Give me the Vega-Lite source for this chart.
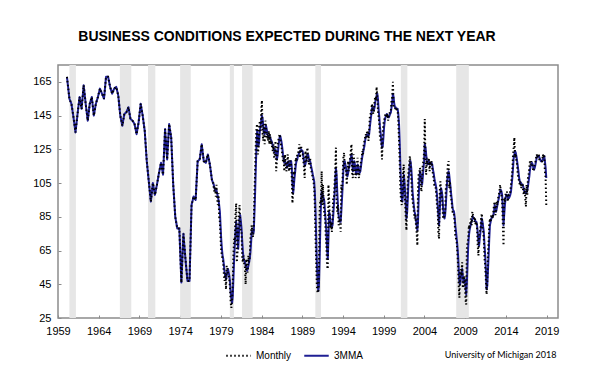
{
"$schema":"https://vega.github.io/schema/vega-lite/v6.json",
"width":500,"height":253,
"autosize":{"type":"none"},
"padding":{"left":58,"top":65,"right":58,"bottom":68},
"background":"white",
"config":{"view":{"stroke":"#8c8c8c","strokeWidth":1.5},"font":"Liberation Sans"},
"title":{"text":"BUSINESS CONDITIONS EXPECTED DURING THE NEXT YEAR","fontSize":14,"fontWeight":"bold","font":"Liberation Sans","color":"#000","anchor":"middle","dx":-21,"baseline":"alphabetic","offset":10},
"datasets":{
"r":[{"s":1960.4,"e":1961.2},{"s":1966.6,"e":1968.0},{"s":1970.05,"e":1970.95},{"s":1974.0,"e":1975.3},{"s":1980.1,"e":1980.6},{"s":1981.6,"e":1982.9},{"s":1990.6,"e":1991.3},{"s":2001.1,"e":2001.9},{"s":2007.9,"e":2009.45}],
"d":[
{"t":1960.1,"m":168,"a":168},{"t":1960.4,"m":155,"a":155},{"t":1960.65,"m":152,"a":152},{"t":1960.9,"m":144,"a":144},
{"t":1961.15,"m":135,"a":135},{"t":1961.4,"m":146,"a":146},{"t":1961.65,"m":156,"a":156},{"t":1961.9,"m":149,"a":149},
{"t":1962.15,"m":163,"a":163},{"t":1962.4,"m":152,"a":152},{"t":1962.65,"m":142,"a":142},{"t":1962.9,"m":152,"a":152},
{"t":1963.15,"m":156,"a":156},{"t":1963.4,"m":145,"a":145},{"t":1963.65,"m":152,"a":152},{"t":1963.9,"m":156,"a":156},
{"t":1964.15,"m":161,"a":161},{"t":1964.4,"m":158,"a":158},{"t":1964.65,"m":155,"a":155},{"t":1964.9,"m":168,"a":168},
{"t":1965.15,"m":168,"a":168},{"t":1965.4,"m":162,"a":162},{"t":1965.65,"m":158,"a":158},{"t":1965.9,"m":161,"a":161},
{"t":1966.15,"m":162,"a":162},{"t":1966.4,"m":157,"a":157},{"t":1966.65,"m":145,"a":145},{"t":1966.9,"m":139,"a":139},
{"t":1967.15,"m":146,"a":146},{"t":1967.4,"m":147,"a":147},{"t":1967.65,"m":150,"a":150},{"t":1967.9,"m":143,"a":143},
{"t":1968.15,"m":142,"a":142},{"t":1968.4,"m":140,"a":140},{"t":1968.65,"m":134,"a":134},{"t":1968.9,"m":141,"a":141},
{"t":1969.15,"m":152,"a":152},{"t":1969.4,"m":145,"a":145},{"t":1969.65,"m":136,"a":136},{"t":1969.9,"m":118,"a":118},
{"t":1970.15,"m":106,"a":106},{"t":1970.4,"m":94,"a":94},{"t":1970.65,"m":105,"a":105},{"t":1970.9,"m":98,"a":98},
{"t":1971.15,"m":104,"a":104},{"t":1971.4,"m":111,"a":111},{"t":1971.65,"m":117,"a":117},{"t":1971.9,"m":110,"a":110},
{"t":1972.15,"m":137,"a":137},{"t":1972.4,"m":119,"a":119},{"t":1972.65,"m":140,"a":140},{"t":1972.9,"m":132,"a":132},
{"t":1973.15,"m":104,"a":104},{"t":1973.4,"m":85,"a":85},{"t":1973.65,"m":78,"a":78},{"t":1973.9,"m":78,"a":78},
{"t":1974.15,"m":46,"a":46},{"t":1974.4,"m":75,"a":75},{"t":1974.65,"m":60,"a":60},{"t":1974.9,"m":47,"a":47},
{"t":1975.15,"m":47,"a":47},{"t":1975.4,"m":92,"a":92},{"t":1975.65,"m":97,"a":97},{"t":1975.9,"m":95,"a":95},
{"t":1976.15,"m":118,"a":118},{"t":1976.4,"m":119,"a":119},{"t":1976.65,"m":128,"a":128},{"t":1976.9,"m":118,"a":118},
{"t":1977.15,"m":117,"a":117},{"t":1977.4,"m":122,"a":122},{"t":1977.65,"m":116,"a":116},{"t":1977.9,"m":107,"a":107},
{"t":1978.04,"m":106,"a":105},{"t":1978.13,"m":102,"a":104},{"t":1978.21,"m":100,"a":102},{"t":1978.29,"m":103,"a":101},{"t":1978.38,"m":97,"a":100},{"t":1978.46,"m":104,"a":101},{"t":1978.54,"m":96,"a":99},{"t":1978.63,"m":92,"a":97},{"t":1978.71,"m":99,"a":95},{"t":1978.79,"m":85,"a":92},{"t":1978.88,"m":82,"a":88},{"t":1978.96,"m":73,"a":80},
{"t":1979.04,"m":65,"a":72},{"t":1979.13,"m":62,"a":66},{"t":1979.21,"m":60,"a":62},{"t":1979.29,"m":58,"a":60},{"t":1979.38,"m":50,"a":56},{"t":1979.46,"m":47,"a":52},{"t":1979.54,"m":52,"a":50},{"t":1979.63,"m":42,"a":48},{"t":1979.71,"m":56,"a":50},{"t":1979.79,"m":55,"a":53},{"t":1979.88,"m":51,"a":54},{"t":1979.96,"m":50,"a":52},
{"t":1980.04,"m":48,"a":50},{"t":1980.13,"m":42,"a":46},{"t":1980.21,"m":34,"a":40},{"t":1980.29,"m":31,"a":36},{"t":1980.38,"m":36,"a":34},{"t":1980.46,"m":45,"a":38},{"t":1980.54,"m":62,"a":48},{"t":1980.63,"m":72,"a":60},{"t":1980.71,"m":70,"a":68},{"t":1980.79,"m":86,"a":76},{"t":1980.88,"m":93,"a":82},{"t":1980.96,"m":58,"a":78},
{"t":1981.04,"m":64,"a":72},{"t":1981.13,"m":74,"a":66},{"t":1981.21,"m":85,"a":74},{"t":1981.29,"m":92,"a":84},{"t":1981.38,"m":82,"a":86},{"t":1981.46,"m":76,"a":82},{"t":1981.54,"m":76,"a":78},{"t":1981.63,"m":60,"a":70},{"t":1981.71,"m":58,"a":64},{"t":1981.79,"m":62,"a":60},{"t":1981.88,"m":56,"a":59},{"t":1981.96,"m":55,"a":58},
{"t":1982.04,"m":45,"a":56},{"t":1982.13,"m":60,"a":55},{"t":1982.21,"m":54,"a":53},{"t":1982.29,"m":52,"a":54},{"t":1982.38,"m":62,"a":56},{"t":1982.46,"m":58,"a":58},{"t":1982.54,"m":61,"a":60},{"t":1982.63,"m":72,"a":64},{"t":1982.71,"m":76,"a":70},{"t":1982.79,"m":80,"a":76},{"t":1982.88,"m":75,"a":77},{"t":1982.96,"m":73,"a":75},
{"t":1983.04,"m":80,"a":76},{"t":1983.13,"m":100,"a":88},{"t":1983.21,"m":112,"a":100},{"t":1983.29,"m":128,"a":114},{"t":1983.38,"m":138,"a":128},{"t":1983.46,"m":140,"a":136},{"t":1983.54,"m":122,"a":132},{"t":1983.63,"m":126,"a":127},{"t":1983.71,"m":138,"a":130},{"t":1983.79,"m":142,"a":136},{"t":1983.88,"m":136,"a":139},{"t":1983.96,"m":148,"a":142},
{"t":1984.04,"m":154,"a":145},{"t":1984.13,"m":134,"a":143},{"t":1984.21,"m":130,"a":138},{"t":1984.29,"m":140,"a":135},{"t":1984.38,"m":128,"a":134},{"t":1984.46,"m":142,"a":137},{"t":1984.54,"m":138,"a":139},{"t":1984.63,"m":132,"a":137},{"t":1984.71,"m":134,"a":134},{"t":1984.79,"m":130,"a":133},{"t":1984.88,"m":136,"a":132},{"t":1984.96,"m":128,"a":133},
{"t":1985.04,"m":134,"a":132},{"t":1985.13,"m":128,"a":131},{"t":1985.21,"m":130,"a":130},{"t":1985.29,"m":126,"a":129},{"t":1985.38,"m":124,"a":127},{"t":1985.46,"m":128,"a":126},{"t":1985.54,"m":120,"a":124},{"t":1985.63,"m":122,"a":123},{"t":1985.71,"m":130,"a":125},{"t":1985.79,"m":112,"a":122},{"t":1985.88,"m":118,"a":119},{"t":1985.96,"m":126,"a":121},
{"t":1986.04,"m":130,"a":125},{"t":1986.13,"m":132,"a":129},{"t":1986.21,"m":134,"a":132},{"t":1986.29,"m":132,"a":133},{"t":1986.38,"m":128,"a":131},{"t":1986.46,"m":126,"a":129},{"t":1986.54,"m":122,"a":126},{"t":1986.63,"m":118,"a":122},{"t":1986.71,"m":120,"a":120},{"t":1986.79,"m":112,"a":117},{"t":1986.88,"m":122,"a":118},{"t":1986.96,"m":116,"a":117},
{"t":1987.04,"m":112,"a":116},{"t":1987.13,"m":114,"a":114},{"t":1987.21,"m":122,"a":116},{"t":1987.29,"m":116,"a":118},{"t":1987.38,"m":112,"a":116},{"t":1987.46,"m":118,"a":115},{"t":1987.54,"m":118,"a":116},{"t":1987.63,"m":116,"a":118},{"t":1987.71,"m":108,"a":114},{"t":1987.79,"m":93,"a":105},{"t":1987.88,"m":100,"a":99},{"t":1987.96,"m":112,"a":103},
{"t":1988.04,"m":110,"a":108},{"t":1988.13,"m":116,"a":112},{"t":1988.21,"m":120,"a":116},{"t":1988.29,"m":118,"a":118},{"t":1988.38,"m":122,"a":119},{"t":1988.46,"m":122,"a":121},{"t":1988.54,"m":124,"a":122},{"t":1988.63,"m":128,"a":123},{"t":1988.71,"m":120,"a":124},{"t":1988.79,"m":126,"a":124},{"t":1988.88,"m":126,"a":125},{"t":1988.96,"m":122,"a":124},
{"t":1989.04,"m":122,"a":124},{"t":1989.13,"m":118,"a":121},{"t":1989.21,"m":114,"a":118},{"t":1989.29,"m":108,"a":115},{"t":1989.38,"m":124,"a":116},{"t":1989.46,"m":120,"a":118},{"t":1989.54,"m":118,"a":120},{"t":1989.63,"m":126,"a":122},{"t":1989.71,"m":120,"a":122},{"t":1989.79,"m":116,"a":120},{"t":1989.88,"m":118,"a":118},{"t":1989.96,"m":120,"a":118},
{"t":1990.04,"m":114,"a":116},{"t":1990.13,"m":112,"a":114},{"t":1990.21,"m":110,"a":112},{"t":1990.29,"m":108,"a":110},{"t":1990.38,"m":106,"a":108},{"t":1990.46,"m":102,"a":106},{"t":1990.54,"m":92,"a":100},{"t":1990.63,"m":72,"a":88},{"t":1990.71,"m":58,"a":72},{"t":1990.79,"m":44,"a":58},{"t":1990.88,"m":40,"a":46},{"t":1990.96,"m":40,"a":41},
{"t":1991.04,"m":52,"a":44},{"t":1991.13,"m":88,"a":60},{"t":1991.21,"m":95,"a":78},{"t":1991.29,"m":94,"a":92},{"t":1991.38,"m":112,"a":100},{"t":1991.46,"m":92,"a":99},{"t":1991.54,"m":104,"a":97},{"t":1991.63,"m":92,"a":96},{"t":1991.71,"m":86,"a":94},{"t":1991.79,"m":86,"a":88},{"t":1991.88,"m":74,"a":82},{"t":1991.96,"m":68,"a":76},
{"t":1992.04,"m":56,"a":66},{"t":1992.13,"m":54,"a":60},{"t":1992.21,"m":104,"a":72},{"t":1992.29,"m":96,"a":88},{"t":1992.38,"m":82,"a":86},{"t":1992.46,"m":78,"a":82},{"t":1992.54,"m":82,"a":80},{"t":1992.63,"m":76,"a":79},{"t":1992.71,"m":84,"a":80},{"t":1992.79,"m":96,"a":85},{"t":1992.88,"m":96,"a":92},{"t":1992.96,"m":104,"a":98},
{"t":1993.04,"m":112,"a":106},{"t":1993.13,"m":126,"a":114},{"t":1993.21,"m":94,"a":110},{"t":1993.29,"m":88,"a":100},{"t":1993.38,"m":92,"a":92},{"t":1993.46,"m":80,"a":86},{"t":1993.54,"m":82,"a":84},{"t":1993.63,"m":84,"a":82},{"t":1993.71,"m":76,"a":82},{"t":1993.79,"m":104,"a":88},{"t":1993.88,"m":100,"a":96},{"t":1993.96,"m":110,"a":104},
{"t":1994.04,"m":120,"a":112},{"t":1994.13,"m":123,"a":118},{"t":1994.21,"m":114,"a":118},{"t":1994.29,"m":114,"a":116},{"t":1994.38,"m":112,"a":114},{"t":1994.46,"m":104,"a":110},{"t":1994.54,"m":112,"a":109},{"t":1994.63,"m":118,"a":111},{"t":1994.71,"m":112,"a":114},{"t":1994.79,"m":116,"a":115},{"t":1994.88,"m":120,"a":118},{"t":1994.96,"m":124,"a":120},
{"t":1995.04,"m":128,"a":122},{"t":1995.13,"m":110,"a":118},{"t":1995.21,"m":108,"a":112},{"t":1995.29,"m":122,"a":114},{"t":1995.38,"m":118,"a":118},{"t":1995.46,"m":112,"a":116},{"t":1995.54,"m":108,"a":112},{"t":1995.63,"m":110,"a":110},{"t":1995.71,"m":116,"a":112},{"t":1995.79,"m":120,"a":116},{"t":1995.88,"m":110,"a":115},{"t":1995.96,"m":108,"a":112},
{"t":1996.04,"m":112,"a":111},{"t":1996.13,"m":114,"a":112},{"t":1996.21,"m":118,"a":115},{"t":1996.29,"m":120,"a":118},{"t":1996.38,"m":124,"a":121},{"t":1996.46,"m":122,"a":123},{"t":1996.54,"m":128,"a":125},{"t":1996.63,"m":130,"a":127},{"t":1996.71,"m":132,"a":130},{"t":1996.79,"m":134,"a":132},{"t":1996.88,"m":132,"a":133},{"t":1996.96,"m":136,"a":134},
{"t":1997.04,"m":136,"a":134},{"t":1997.13,"m":130,"a":133},{"t":1997.21,"m":136,"a":134},{"t":1997.29,"m":144,"a":138},{"t":1997.38,"m":146,"a":142},{"t":1997.46,"m":146,"a":145},{"t":1997.54,"m":152,"a":149},{"t":1997.63,"m":150,"a":150},{"t":1997.71,"m":146,"a":148},{"t":1997.79,"m":148,"a":148},{"t":1997.88,"m":154,"a":150},{"t":1997.96,"m":156,"a":153},
{"t":1998.04,"m":154,"a":155},{"t":1998.13,"m":162,"a":157},{"t":1998.21,"m":156,"a":158},{"t":1998.29,"m":148,"a":155},{"t":1998.38,"m":144,"a":148},{"t":1998.46,"m":140,"a":144},{"t":1998.54,"m":132,"a":138},{"t":1998.63,"m":130,"a":134},{"t":1998.71,"m":128,"a":130},{"t":1998.79,"m":119,"a":126},{"t":1998.88,"m":134,"a":127},{"t":1998.96,"m":140,"a":132},
{"t":1999.04,"m":142,"a":138},{"t":1999.13,"m":144,"a":142},{"t":1999.21,"m":146,"a":144},{"t":1999.29,"m":146,"a":145},{"t":1999.38,"m":144,"a":146},{"t":1999.46,"m":146,"a":145},{"t":1999.54,"m":142,"a":144},{"t":1999.63,"m":146,"a":144},{"t":1999.71,"m":146,"a":145},{"t":1999.79,"m":148,"a":146},{"t":1999.88,"m":148,"a":147},{"t":1999.96,"m":154,"a":150},
{"t":2000.04,"m":156,"a":153},{"t":2000.13,"m":165,"a":158},{"t":2000.21,"m":150,"a":156},{"t":2000.29,"m":150,"a":152},{"t":2000.38,"m":150,"a":150},{"t":2000.46,"m":148,"a":150},{"t":2000.54,"m":150,"a":149},{"t":2000.63,"m":148,"a":149},{"t":2000.71,"m":148,"a":149},{"t":2000.79,"m":142,"a":146},{"t":2000.88,"m":130,"a":140},{"t":2000.96,"m":118,"a":130},
{"t":2001.04,"m":102,"a":116},{"t":2001.13,"m":94,"a":104},{"t":2001.21,"m":92,"a":96},{"t":2001.29,"m":96,"a":94},{"t":2001.38,"m":112,"a":100},{"t":2001.46,"m":116,"a":110},{"t":2001.54,"m":100,"a":106},{"t":2001.63,"m":94,"a":100},{"t":2001.71,"m":84,"a":92},{"t":2001.79,"m":77,"a":84},{"t":2001.88,"m":96,"a":88},{"t":2001.96,"m":106,"a":96},
{"t":2002.04,"m":112,"a":106},{"t":2002.13,"m":116,"a":112},{"t":2002.21,"m":121,"a":117},{"t":2002.29,"m":116,"a":118},{"t":2002.38,"m":108,"a":114},{"t":2002.46,"m":100,"a":108},{"t":2002.54,"m":94,"a":100},{"t":2002.63,"m":92,"a":95},{"t":2002.71,"m":88,"a":91},{"t":2002.79,"m":84,"a":88},{"t":2002.88,"m":86,"a":86},{"t":2002.96,"m":80,"a":83},
{"t":2003.04,"m":76,"a":80},{"t":2003.13,"m":68,"a":77},{"t":2003.21,"m":102,"a":82},{"t":2003.29,"m":110,"a":96},{"t":2003.38,"m":112,"a":108},{"t":2003.46,"m":114,"a":112},{"t":2003.54,"m":104,"a":110},{"t":2003.63,"m":100,"a":106},{"t":2003.71,"m":108,"a":104},{"t":2003.79,"m":116,"a":108},{"t":2003.88,"m":118,"a":114},{"t":2003.96,"m":124,"a":118},
{"t":2004.04,"m":143,"a":128},{"t":2004.13,"m":118,"a":126},{"t":2004.21,"m":110,"a":122},{"t":2004.29,"m":120,"a":118},{"t":2004.38,"m":116,"a":116},{"t":2004.46,"m":118,"a":117},{"t":2004.54,"m":120,"a":118},{"t":2004.63,"m":112,"a":116},{"t":2004.71,"m":118,"a":116},{"t":2004.79,"m":116,"a":117},{"t":2004.88,"m":118,"a":117},{"t":2004.96,"m":114,"a":116},
{"t":2005.04,"m":110,"a":113},{"t":2005.13,"m":108,"a":111},{"t":2005.21,"m":104,"a":108},{"t":2005.29,"m":104,"a":106},{"t":2005.38,"m":102,"a":104},{"t":2005.46,"m":98,"a":102},{"t":2005.54,"m":92,"a":98},{"t":2005.63,"m":88,"a":92},{"t":2005.71,"m":76,"a":86},{"t":2005.79,"m":72,"a":80},{"t":2005.88,"m":100,"a":88},{"t":2005.96,"m":106,"a":98},
{"t":2006.04,"m":100,"a":102},{"t":2006.13,"m":98,"a":100},{"t":2006.21,"m":92,"a":97},{"t":2006.29,"m":84,"a":90},{"t":2006.38,"m":84,"a":86},{"t":2006.46,"m":86,"a":84},{"t":2006.54,"m":88,"a":86},{"t":2006.63,"m":102,"a":92},{"t":2006.71,"m":104,"a":100},{"t":2006.79,"m":110,"a":106},{"t":2006.88,"m":116,"a":110},{"t":2006.96,"m":118,"a":112},
{"t":2007.04,"m":102,"a":110},{"t":2007.13,"m":106,"a":106},{"t":2007.21,"m":98,"a":102},{"t":2007.29,"m":96,"a":98},{"t":2007.38,"m":92,"a":94},{"t":2007.46,"m":88,"a":90},{"t":2007.54,"m":88,"a":89},{"t":2007.63,"m":86,"a":88},{"t":2007.71,"m":82,"a":85},{"t":2007.79,"m":74,"a":80},{"t":2007.88,"m":72,"a":76},{"t":2007.96,"m":70,"a":72},
{"t":2008.04,"m":64,"a":68},{"t":2008.13,"m":56,"a":62},{"t":2008.21,"m":44,"a":54},{"t":2008.29,"m":37,"a":46},{"t":2008.38,"m":52,"a":45},{"t":2008.46,"m":54,"a":48},{"t":2008.54,"m":50,"a":52},{"t":2008.63,"m":58,"a":54},{"t":2008.71,"m":44,"a":50},{"t":2008.79,"m":44,"a":46},{"t":2008.88,"m":50,"a":47},{"t":2008.96,"m":48,"a":48},
{"t":2009.04,"m":36,"a":44},{"t":2009.13,"m":33,"a":39},{"t":2009.21,"m":66,"a":46},{"t":2009.29,"m":70,"a":57},{"t":2009.38,"m":72,"a":68},{"t":2009.46,"m":80,"a":74},{"t":2009.54,"m":78,"a":77},{"t":2009.63,"m":82,"a":79},{"t":2009.71,"m":84,"a":81},{"t":2009.79,"m":80,"a":82},{"t":2009.88,"m":88,"a":84},{"t":2009.96,"m":86,"a":85},
{"t":2010.04,"m":86,"a":84},{"t":2010.13,"m":82,"a":84},{"t":2010.21,"m":84,"a":83},{"t":2010.29,"m":80,"a":82},{"t":2010.38,"m":82,"a":82},{"t":2010.46,"m":78,"a":80},{"t":2010.54,"m":68,"a":76},{"t":2010.63,"m":62,"a":70},{"t":2010.71,"m":74,"a":68},{"t":2010.79,"m":76,"a":72},{"t":2010.88,"m":78,"a":76},{"t":2010.96,"m":84,"a":80},
{"t":2011.04,"m":87,"a":84},{"t":2011.13,"m":78,"a":82},{"t":2011.21,"m":76,"a":79},{"t":2011.29,"m":72,"a":76},{"t":2011.38,"m":60,"a":68},{"t":2011.46,"m":56,"a":62},{"t":2011.54,"m":48,"a":54},{"t":2011.63,"m":39,"a":42},{"t":2011.71,"m":46,"a":44},{"t":2011.79,"m":62,"a":52},{"t":2011.88,"m":70,"a":62},{"t":2011.96,"m":80,"a":72},
{"t":2012.04,"m":84,"a":80},{"t":2012.13,"m":82,"a":82},{"t":2012.21,"m":86,"a":84},{"t":2012.29,"m":86,"a":85},{"t":2012.38,"m":84,"a":85},{"t":2012.46,"m":88,"a":86},{"t":2012.54,"m":92,"a":88},{"t":2012.63,"m":94,"a":92},{"t":2012.71,"m":86,"a":90},{"t":2012.79,"m":88,"a":88},{"t":2012.88,"m":94,"a":90},{"t":2012.96,"m":92,"a":92},
{"t":2013.04,"m":96,"a":94},{"t":2013.13,"m":98,"a":96},{"t":2013.21,"m":100,"a":98},{"t":2013.29,"m":104,"a":100},{"t":2013.38,"m":100,"a":101},{"t":2013.46,"m":98,"a":100},{"t":2013.54,"m":94,"a":98},{"t":2013.63,"m":80,"a":90},{"t":2013.71,"m":68,"a":80},{"t":2013.79,"m":96,"a":86},{"t":2013.88,"m":94,"a":92},{"t":2013.96,"m":98,"a":96},
{"t":2014.04,"m":98,"a":98},{"t":2014.13,"m":100,"a":98},{"t":2014.21,"m":94,"a":97},{"t":2014.29,"m":96,"a":96},{"t":2014.38,"m":98,"a":96},{"t":2014.46,"m":98,"a":97},{"t":2014.54,"m":100,"a":98},{"t":2014.63,"m":104,"a":100},{"t":2014.71,"m":108,"a":104},{"t":2014.79,"m":112,"a":108},{"t":2014.88,"m":122,"a":114},{"t":2014.96,"m":126,"a":120},
{"t":2015.04,"m":132,"a":122},{"t":2015.13,"m":120,"a":124},{"t":2015.21,"m":122,"a":123},{"t":2015.29,"m":118,"a":121},{"t":2015.38,"m":116,"a":118},{"t":2015.46,"m":110,"a":115},{"t":2015.54,"m":108,"a":112},{"t":2015.63,"m":106,"a":108},{"t":2015.71,"m":104,"a":106},{"t":2015.79,"m":106,"a":105},{"t":2015.88,"m":102,"a":105},{"t":2015.96,"m":104,"a":104},
{"t":2016.04,"m":104,"a":104},{"t":2016.13,"m":100,"a":103},{"t":2016.21,"m":98,"a":101},{"t":2016.29,"m":102,"a":100},{"t":2016.38,"m":96,"a":99},{"t":2016.46,"m":91,"a":99},{"t":2016.54,"m":104,"a":100},{"t":2016.63,"m":98,"a":101},{"t":2016.71,"m":108,"a":103},{"t":2016.79,"m":110,"a":106},{"t":2016.88,"m":114,"a":109},{"t":2016.96,"m":118,"a":113},
{"t":2017.04,"m":116,"a":115},{"t":2017.13,"m":118,"a":116},{"t":2017.21,"m":116,"a":117},{"t":2017.29,"m":114,"a":116},{"t":2017.38,"m":112,"a":114},{"t":2017.46,"m":114,"a":113},{"t":2017.54,"m":116,"a":114},{"t":2017.63,"m":118,"a":116},{"t":2017.71,"m":120,"a":118},{"t":2017.79,"m":122,"a":120},{"t":2017.88,"m":120,"a":121},{"t":2017.96,"m":122,"a":121},
{"t":2018.04,"m":122,"a":121},{"t":2018.13,"m":118,"a":120},{"t":2018.21,"m":118,"a":119},{"t":2018.29,"m":118,"a":118},{"t":2018.38,"m":118,"a":118},{"t":2018.46,"m":118,"a":118},{"t":2018.54,"m":122,"a":119},{"t":2018.63,"m":120,"a":120},{"t":2018.71,"m":122,"a":121},{"t":2018.79,"m":112,"a":118},{"t":2018.88,"m":108,"a":114},{"t":2018.96,"m":92,"a":108}
]},
"layer":[
{"data":{"name":"r"},"mark":{"type":"rect","color":"#e6e6e6"},
 "encoding":{"x":{"field":"s","type":"quantitative"},"x2":{"field":"e"}}},
{"data":{"name":"d"},"mark":{"type":"line","strokeWidth":2,"strokeJoin":"round"},
 "encoding":{"x":{"field":"t","type":"quantitative"},"y":{"field":"a","type":"quantitative"},
  "color":{"datum":"3MMA"},"strokeDash":{"datum":"3MMA"}}},
{"data":{"name":"d"},"mark":{"type":"line","strokeWidth":2,"strokeCap":"butt"},
 "encoding":{"x":{"field":"t","type":"quantitative"},"y":{"field":"m","type":"quantitative"},
  "color":{"datum":"Monthly"},"strokeDash":{"datum":"Monthly"}}}
],
"encoding":{
 "x":{"field":"t","type":"quantitative","scale":{"domain":[1959,2020.4],"nice":false,"zero":false},
  "axis":{"values":[1959,1964,1969,1974,1979,1984,1989,1994,1999,2004,2009,2014,2019],"format":"d","grid":false,"domain":false,"labelFlush":false,"labelOverlap":false,
   "tickSize":-3,"tickColor":"#8c8c8c","labelPadding":10,"labelFontSize":11,"labelColor":"#000","labelFont":"Liberation Sans",
   "title":"University of Michigan 2018","titleX":498,"titleY":39,"titleAlign":"right","titleBaseline":"alphabetic","titleFontSize":9,"titleFontWeight":"normal","titleFont":"Lato","titleColor":"#000"}},
 "y":{"type":"quantitative","scale":{"domain":[25,175],"nice":false,"zero":false},
  "axis":{"values":[25,45,65,85,105,125,145,165],"grid":false,"domain":false,"title":null,
   "tickSize":-3,"tickColor":"#8c8c8c","labelPadding":10,"labelFontSize":11,"labelColor":"#000","labelFont":"Liberation Sans"}},
 "color":{"scale":{"domain":["Monthly","3MMA"],"range":["#000000","#1f1f94"]},
  "legend":{"title":null,"orient":"none","legendX":167,"legendY":277,"direction":"horizontal","symbolType":"stroke","symbolSize":600,"symbolStrokeWidth":2,"labelFontSize":10,"labelFont":"Liberation Sans","labelColor":"#000","columnPadding":8,"labelOffset":4}},
 "strokeDash":{"scale":{"domain":["Monthly","3MMA"],"range":[[1.5,2.5],[1,0]]},
  "legend":{"title":null,"orient":"none","legendX":167,"legendY":277,"direction":"horizontal","symbolType":"stroke","symbolSize":600,"symbolStrokeWidth":2,"labelFontSize":10,"labelFont":"Liberation Sans","labelColor":"#000","columnPadding":8,"labelOffset":4}}
}
}
